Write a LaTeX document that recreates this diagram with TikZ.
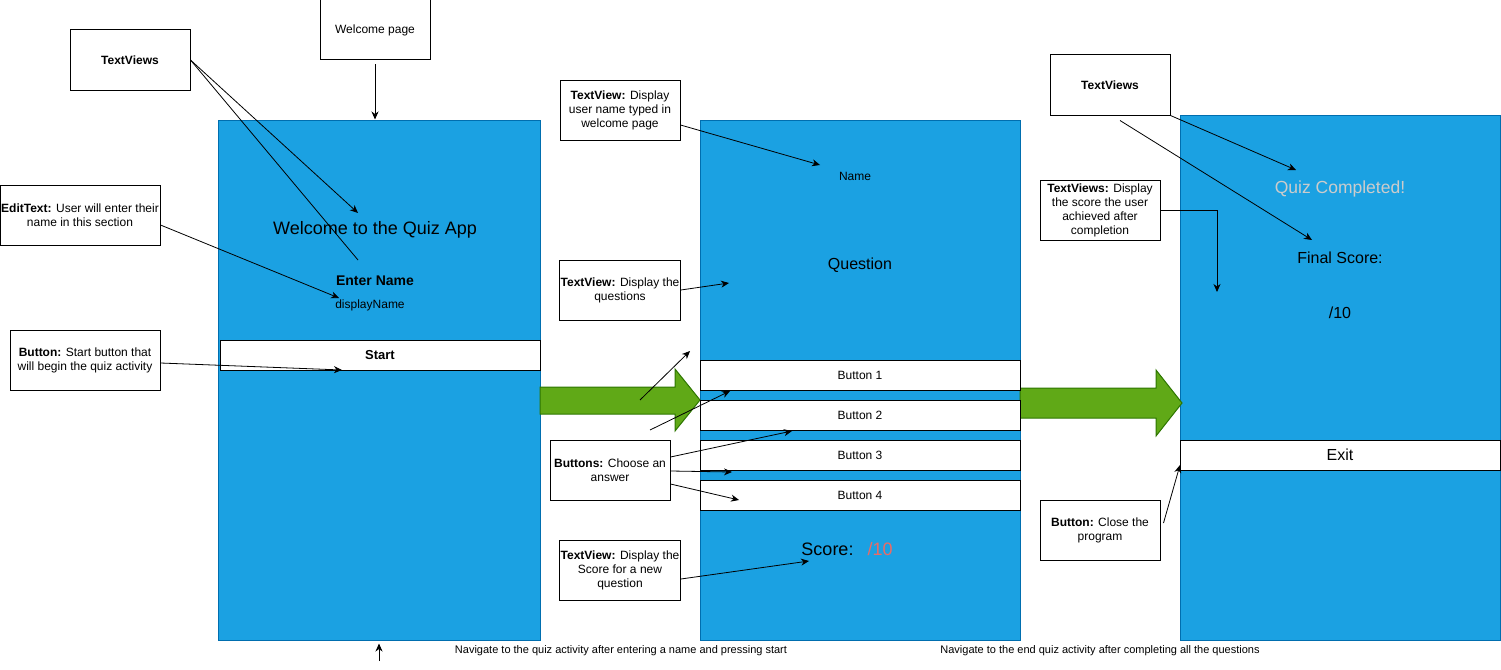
\documentclass[tikz,border=0pt]{standalone}
\usepackage{fontspec}
\setmainfont{Liberation Sans}
\usetikzlibrary{shapes.geometric, arrows, arrows.meta, calc}

\definecolor{screenblue}{HTML}{1BA1E2}
\definecolor{screenedge}{HTML}{006EAF}
\definecolor{gofill}{HTML}{60A917}
\definecolor{goedge}{HTML}{2D7600}
\definecolor{scorered}{HTML}{EA6B66}
\definecolor{donegray}{HTML}{CCCCCC}

\tikzstyle{screen} = [rectangle, draw=screenedge, fill=screenblue, line width=1pt, inner sep=0pt]
\tikzstyle{button} = [rectangle, minimum width=320pt, minimum height=30pt, draw=black, fill=white, line width=1pt, inner sep=0pt]
\tikzstyle{note} = [rectangle, minimum width=120pt, minimum height=60pt, draw=black, fill=white, line width=1pt, align=center, inner sep=1pt, font=\fontsize{12}{14}\selectfont]
\tikzstyle{plaintext} = [font=\fontsize{12}{14}\selectfont]
\tikzstyle{bigtext} = [font=\fontsize{16}{19}\selectfont]
\tikzstyle{navtext} = [font=\fontsize{11}{13}\selectfont]
\tikzstyle{go} = [draw=goedge, fill=gofill, line width=1pt]
\tikzstyle{arrow} = [line width=0.8pt, -{Stealth[length=8pt,width=7pt,inset=2.5pt]}]

\begin{document}
\begin{tikzpicture}[x=1pt, y=-1pt]

    \useasboundingbox (0,0) rectangle (1501,669);

    % Screens
    \node (welcome) [screen, minimum width=322pt, minimum height=520pt] at (379,380) {};
    \node (quiz) [screen, minimum width=320pt, minimum height=520pt] at (860,380) {};
    \node (finish) [screen, minimum width=320pt, minimum height=525pt] at (1340,377.5) {};

    % Big arrows between screens
    \draw [go] (540,387) -- (675,387) -- (675,369) -- (700,400) -- (675,431) -- (675,414) -- (540,414) -- cycle;
    \draw [go] (1020,388) -- (1156,388) -- (1156,370) -- (1182,403) -- (1156,436) -- (1156,418) -- (1020,418) -- cycle;

    % Welcome screen
    \node (title) [font=\fontsize{18}{21}\selectfont] at (375,230) {Welcome to the Quiz App};
    \node (entername) [font=\fontsize{14}{16}\selectfont\bfseries] at (375,281) {Enter Name};
    \node (displayname) [plaintext] at (370,305) {displayName};
    \node (start) [button, font=\fontsize{13}{15}\selectfont\bfseries] at (380,355) {Start};

    % Quiz screen
    \node (username) [plaintext] at (855,176) {Name};
    \node (question) [bigtext] at (860,265) {Question};
    \foreach \i/\y in {1/375.5, 2/415, 3/455, 4/495}
        \node (btn\i) [button, plaintext] at (860,\y) {Button \i};
    \node (score) [font=\fontsize{18}{21}\selectfont] at (847,549) {Score:\hspace{14pt}\textcolor{scorered}{/10}};

    % End screen
    \node (done) [font=\fontsize{17.5}{20}\selectfont, text=donegray] at (1340,189) {Quiz Completed!};
    \node (finalscore) [bigtext] at (1340,258) {Final Score:};
    \node (outof) [bigtext] at (1340,313) {/10};
    \node (exit) [button, bigtext] at (1340,455) {Exit};

    % Notes
    \node (tvleft) [note] at (130,60) {\textbf{TextViews}};
    \node (welcomepage) [note, minimum width=110pt] at (375,30) {Welcome page};
    \node (edittext) [note, minimum width=160pt] at (80,215) {\textbf{EditText:} User will enter their\\name in this section};
    \node (startnote) [note, minimum width=150pt] at (85,360) {\textbf{Button:} Start button that\\will begin the quiz activity};
    \node (tvname) [note] at (620,110) {\textbf{TextView:} Display\\user name typed in\\welcome page};
    \node (tvquestion) [note] at (620,290) {\textbf{TextView:} Display the\\questions};
    \node (buttonsnote) [note] at (610,470) {\textbf{Buttons:} Choose an\\answer};
    \node (tvscore) [note] at (620,570) {\textbf{TextView:} Display the\\Score for a new\\question};
    \node (tvright) [note] at (1110,85) {\textbf{TextViews}};
    \node (tvfinal) [note] at (1100,210) {\textbf{TextViews:} Display\\the score the user\\achieved after\\completion};
    \node (exitnote) [note] at (1100,530) {\textbf{Button:} Close the\\program};

    % Bottom captions
    \node (navquiz) [navtext] at (621,651) {Navigate to the quiz activity after entering a name and pressing start};
    \node (navend) [navtext] at (1100,651) {Navigate to the end quiz activity after completing all the questions};

    % Arrow ends
    \coordinate (titletop) at (358,213);
    \coordinate (nametop) at (358,260);
    \coordinate (fieldtip) at (339,298);
    \coordinate (starttip) at (342,370);
    \coordinate (usernametip) at (820,165);
    \coordinate (questiontip) at (729,283);
    \coordinate (pickA) at (640,400);
    \coordinate (pickAtip) at (690,351);
    \coordinate (pickB) at (650,430);
    \coordinate (pickBtip) at (730,391);
    \coordinate (pickCtip) at (792,431);
    \coordinate (pickDtip) at (732,472);
    \coordinate (pickEtip) at (739,500);
    \coordinate (scoretip) at (809,561);
    \coordinate (donetip) at (1296,170);
    \coordinate (finaltip) at (1312,240);
    \coordinate (totaltip) at (1217,292);
    \coordinate (exittip) at (1180,465);
    \coordinate (bottomstart) at (379,661);

    % Arrows
    \draw [arrow] (tvleft.east) -- (titletop);
    \draw [line width=0.8pt] (tvleft.east) -- (nametop);
    \draw [arrow] ($(welcomepage.south)+(0,4)$) -- (welcomepage.south |- welcome.north);
    \draw [arrow] ($(edittext.east)+(0,10)$) -- (fieldtip);
    \draw [arrow] ($(startnote.east)+(0,3)$) -- (starttip);
    \draw [arrow] ($(tvname.east)+(0,15)$) -- (usernametip);
    \draw [arrow] (tvquestion.east) -- (questiontip);
    \draw [arrow] (pickA) -- (pickAtip);
    \draw [arrow] (pickB) -- (pickBtip);
    \draw [arrow] ($(buttonsnote.east)+(0,-13)$) -- (pickCtip);
    \draw [arrow] ($(buttonsnote.east)+(0,1)$) -- (pickDtip);
    \draw [arrow] ($(buttonsnote.east)+(0,14)$) -- (pickEtip);
    \draw [arrow] ($(tvscore.east)+(0,9)$) -- (scoretip);
    \draw [arrow] (tvright.south east) -- (donetip);
    \draw [arrow] ($(tvright.south)+(10,5)$) -- (finaltip);
    \draw [arrow] (tvfinal.east) -| (totaltip);
    \draw [arrow] ($(exitnote.east)+(3,-7)$) -- (exittip);
    \draw [arrow] (bottomstart) -- ($(welcome.south)+(0,3)$);

\end{tikzpicture}
\end{document}
